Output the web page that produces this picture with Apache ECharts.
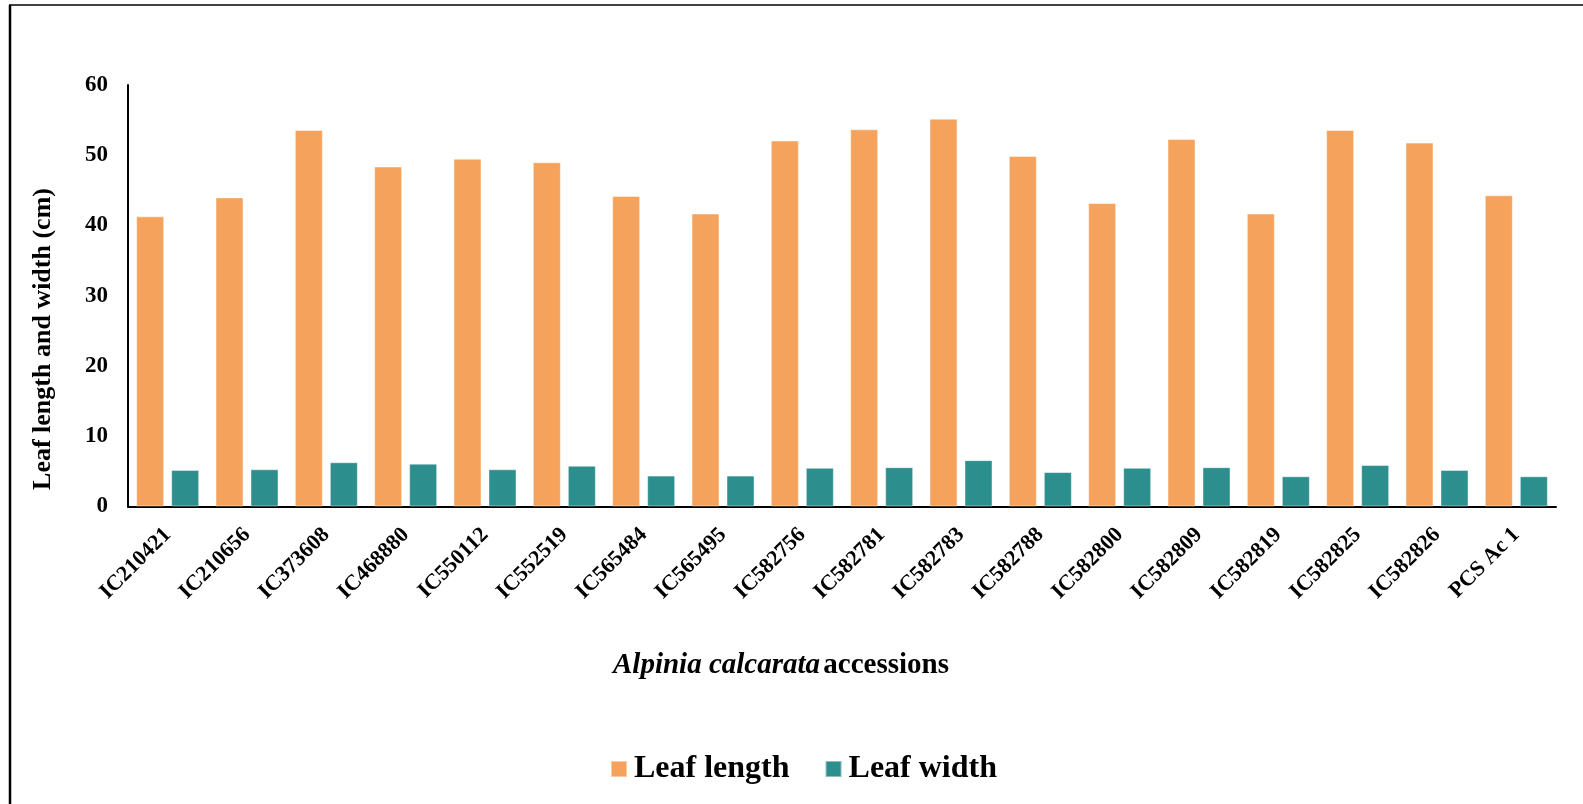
<!DOCTYPE html>
<html>
<head>
<meta charset="utf-8">
<title>Alpinia calcarata leaf length and width</title>
<script src="https://cdn.jsdelivr.net/npm/echarts@6/dist/echarts.min.js"></script>
<style>
  html, body { margin: 0; padding: 0; background: #ffffff; }
  #chart { width: 1583px; height: 804px; }
</style>
</head>
<body>
<div id="chart"></div>
<script>
// Accessions of Alpinia calcarata
const accessions = [
  'IC210421', 'IC210656', 'IC373608', 'IC468880', 'IC550112', 'IC552519',
  'IC565484', 'IC565495', 'IC582756', 'IC582781', 'IC582783', 'IC582788',
  'IC582800', 'IC582809', 'IC582819', 'IC582825', 'IC582826', 'PCS Ac 1'
];

// Mean leaf length (cm)
const leafLength = [
  41.3, 44.0, 53.6, 48.4, 49.5, 49.0,
  44.2, 41.7, 52.1, 53.7, 55.2, 49.9,
  43.2, 52.3, 41.7, 53.6, 51.8, 44.3
];

// Mean leaf width (cm)
const leafWidth = [
  5.2, 5.3, 6.3, 6.1, 5.3, 5.8,
  4.4, 4.4, 5.5, 5.6, 6.6, 4.9,
  5.5, 5.6, 4.3, 5.9, 5.2, 4.3
];

const yTicks = { min: 0, max: 60, interval: 10 };

const FONT = '"Liberation Serif", "DejaVu Serif", serif';
const ORANGE = '#F5A35C';
const TEAL = '#2D8E8E';

const chart = echarts.init(document.getElementById('chart'), null, { renderer: 'canvas' });

chart.setOption({
  backgroundColor: '#ffffff',
  animation: false,
  textStyle: { fontFamily: FONT },
  grid: { left: 128, right: 27, top: 85, bottom: 297.5, containLabel: false },
  legend: {
    left: 605,
    top: 748,
    itemWidth: 16,
    itemHeight: 16,
    itemGap: 35,
    icon: 'rect',
    textStyle: { fontFamily: FONT, fontWeight: 'bold', fontSize: 32, color: '#000', padding: [0, 0, 0, 2] },
    data: ['Leaf length', 'Leaf width']
  },
  xAxis: {
    type: 'category',
    data: accessions,
    axisLine: { show: true, lineStyle: { color: '#000', width: 2 } },
    axisTick: { show: false },
    axisLabel: {
      rotate: 45,
      interval: 0,
      margin: 25,
      fontFamily: FONT,
      fontWeight: 'bold',
      fontSize: 22,
      color: '#000'
    },
    splitLine: { show: false }
  },
  yAxis: {
    type: 'value',
    min: yTicks.min,
    max: yTicks.max,
    interval: yTicks.interval,
    axisLine: { show: true, lineStyle: { color: '#000', width: 2 } },
    axisTick: { show: false },
    axisLabel: {
      margin: 20,
      fontFamily: FONT,
      fontWeight: 'bold',
      fontSize: 23,
      color: '#000'
    },
    splitLine: { show: false }
  },
  series: [
    {
      name: 'Leaf length',
      type: 'bar',
      data: leafLength,
      barWidth: 28,
      barGap: '25%',
      itemStyle: { color: ORANGE, borderColor: 'rgba(255,255,255,0.45)', borderWidth: 1 }
    },
    {
      name: 'Leaf width',
      type: 'bar',
      data: leafWidth,
      barWidth: 28,
      barGap: '25%',
      itemStyle: { color: TEAL, borderColor: 'rgba(255,255,255,0.45)', borderWidth: 1 }
    }
  ],
  graphic: [
    // frame lines along the left and top edges
    { type: 'line', shape: { x1: 10, y1: 5, x2: 10, y2: 804 }, style: { stroke: '#000', lineWidth: 2.5 }, silent: true },
    { type: 'line', shape: { x1: 9, y1: 5, x2: 1583, y2: 5 }, style: { stroke: '#000', lineWidth: 1.5 }, silent: true },
    // y-axis title
    {
      type: 'text',
      x: 43,
      y: 339,
      rotation: Math.PI / 2,
      style: {
        text: 'Leaf length and width (cm)',
        fontFamily: FONT,
        fontWeight: 'bold',
        fontSize: 26,
        fill: '#000',
        align: 'center',
        verticalAlign: 'middle'
      },
      silent: true
    },
    // x-axis title
    {
      type: 'text',
      x: 781,
      y: 666,
      style: {
        text: '{i|Alpinia calcarata} {b|accessions}',
        align: 'center',
        verticalAlign: 'middle',
        rich: {
          i: { fontFamily: FONT, fontWeight: 'bold', fontStyle: 'italic', fontSize: 29, fill: '#000' },
          b: { fontFamily: FONT, fontWeight: 'bold', fontSize: 29, fill: '#000' }
        }
      },
      silent: true
    }
  ]
});
</script>
</body>
</html>
